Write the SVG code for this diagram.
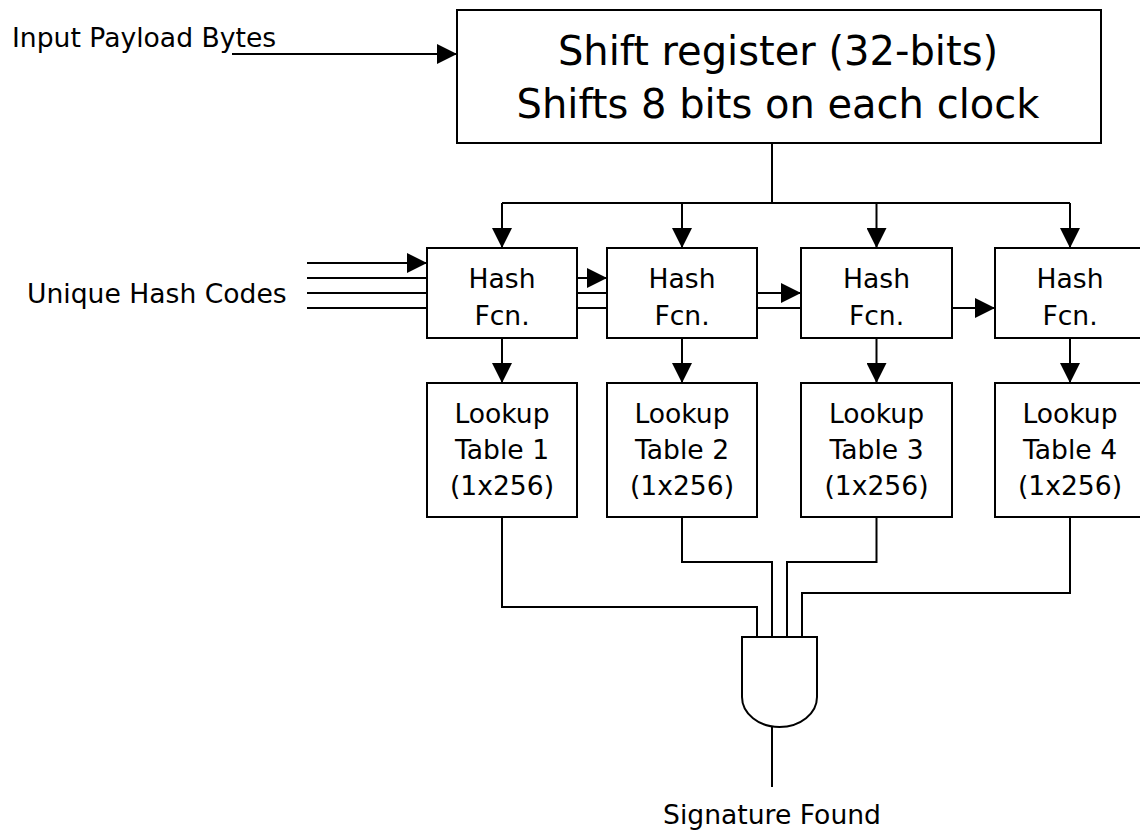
<svg xmlns="http://www.w3.org/2000/svg" width="1140" height="831" viewBox="0 0 1140 831">
  <style>
    .box { fill: #ffffff; stroke: #000000; stroke-width: 2; }
    .wire { fill: none; stroke: #000000; stroke-width: 2; }
    .lbl { font-family: "DejaVu Sans", Verdana, sans-serif; font-size: 26.6px; fill: #000000; }
    .mid { text-anchor: middle; }
    .big { font-family: "DejaVu Sans", Verdana, sans-serif; font-size: 40px; fill: #000000; text-anchor: middle; }
  </style>
  <defs>
    <marker id="arrow" markerUnits="userSpaceOnUse" markerWidth="20" markerHeight="20" refX="20" refY="10" orient="auto">
      <path d="M0,0 L20,10 L0,20 Z" fill="#000000"/>
    </marker>
  </defs>
  <rect width="1140" height="831" fill="#ffffff"/>

  <!-- free-standing labels -->
  <text class="lbl" x="12" y="47">Input Payload Bytes</text>
  <text class="lbl" x="27" y="303">Unique Hash Codes</text>
  <text class="lbl mid" x="772" y="824">Signature Found</text>

  <!-- shift register -->
  <g id="shift-register">
    <rect class="box" x="457" y="10" width="644" height="133"/>
    <text class="big" x="778" y="65">Shift register (32-bits)</text>
    <text class="big" x="778" y="118">Shifts 8 bits on each clock</text>
  </g>

  <!-- hash function stages -->
  <g id="hash-1">
    <rect class="box" x="427" y="248" width="150" height="90"/>
    <text class="lbl mid" x="502" y="288">Hash</text>
    <text class="lbl mid" x="502" y="325">Fcn.</text>
  </g>
  <g id="hash-2">
    <rect class="box" x="607" y="248" width="150" height="90"/>
    <text class="lbl mid" x="682" y="288">Hash</text>
    <text class="lbl mid" x="682" y="325">Fcn.</text>
  </g>
  <g id="hash-3">
    <rect class="box" x="801" y="248" width="151" height="90"/>
    <text class="lbl mid" x="876.5" y="288">Hash</text>
    <text class="lbl mid" x="876.5" y="325">Fcn.</text>
  </g>
  <g id="hash-4">
    <rect class="box" x="995" y="248" width="160" height="90"/>
    <text class="lbl mid" x="1070" y="288">Hash</text>
    <text class="lbl mid" x="1070" y="325">Fcn.</text>
  </g>

  <!-- lookup tables -->
  <g id="lookup-1">
    <rect class="box" x="427" y="383" width="150" height="134"/>
    <text class="lbl mid" x="502" y="423">Lookup</text>
    <text class="lbl mid" x="502" y="459">Table 1</text>
    <text class="lbl mid" x="502" y="495">(1x256)</text>
  </g>
  <g id="lookup-2">
    <rect class="box" x="607" y="383" width="150" height="134"/>
    <text class="lbl mid" x="682" y="423">Lookup</text>
    <text class="lbl mid" x="682" y="459">Table 2</text>
    <text class="lbl mid" x="682" y="495">(1x256)</text>
  </g>
  <g id="lookup-3">
    <rect class="box" x="801" y="383" width="151" height="134"/>
    <text class="lbl mid" x="876.5" y="423">Lookup</text>
    <text class="lbl mid" x="876.5" y="459">Table 3</text>
    <text class="lbl mid" x="876.5" y="495">(1x256)</text>
  </g>
  <g id="lookup-4">
    <rect class="box" x="995" y="383" width="160" height="134"/>
    <text class="lbl mid" x="1070" y="423">Lookup</text>
    <text class="lbl mid" x="1070" y="459">Table 4</text>
    <text class="lbl mid" x="1070" y="495">(1x256)</text>
  </g>

  <!-- AND gate -->
  <g id="and-gate">
    <path class="box" d="M742,637 L742,697 A37.5,30 0 0 0 817,697 L817,637 Z"/>
  </g>

  <g id="connectors">
    <!-- payload input -->
    <path class="wire" d="M232,54 H457" marker-end="url(#arrow)"/>

    <!-- register fan-out bus -->
    <path class="wire" d="M772,143 V203"/>
    <path class="wire" d="M502,203 H1070"/>
    <path class="wire" d="M502,203 V248" marker-end="url(#arrow)"/>
    <path class="wire" d="M682,203 V248" marker-end="url(#arrow)"/>
    <path class="wire" d="M876.5,203 V248" marker-end="url(#arrow)"/>
    <path class="wire" d="M1070,203 V248" marker-end="url(#arrow)"/>

    <!-- hash code inputs -->
    <path class="wire" d="M307,263 H427" marker-end="url(#arrow)"/>
    <path class="wire" d="M307,278 H427"/>
    <path class="wire" d="M307,293 H427"/>
    <path class="wire" d="M307,308 H427"/>

    <!-- stage 1 to 2 -->
    <path class="wire" d="M577,278 H607" marker-end="url(#arrow)"/>
    <path class="wire" d="M577,293 H607"/>
    <path class="wire" d="M577,308 H607"/>

    <!-- stage 2 to 3 -->
    <path class="wire" d="M757,293 H801" marker-end="url(#arrow)"/>
    <path class="wire" d="M757,308 H801"/>

    <!-- stage 3 to 4 -->
    <path class="wire" d="M952,308 H995" marker-end="url(#arrow)"/>

    <!-- hash to lookup -->
    <path class="wire" d="M502,338 V383" marker-end="url(#arrow)"/>
    <path class="wire" d="M682,338 V383" marker-end="url(#arrow)"/>
    <path class="wire" d="M876.5,338 V383" marker-end="url(#arrow)"/>
    <path class="wire" d="M1070,338 V383" marker-end="url(#arrow)"/>

    <!-- lookup outputs into gate -->
    <path class="wire" d="M502,517 V607 H757 V637"/>
    <path class="wire" d="M682,517 V562 H772 V637"/>
    <path class="wire" d="M876.5,517 V562 H787 V637"/>
    <path class="wire" d="M1070,517 V593 H802 V637"/>

    <!-- gate output -->
    <path class="wire" d="M772,727 V787"/>
  </g>
</svg>
